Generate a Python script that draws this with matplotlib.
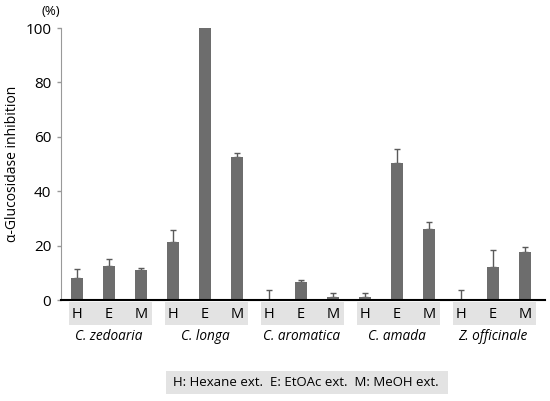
import numpy as np
import matplotlib
matplotlib.use("Agg")
import matplotlib.pyplot as plt
from matplotlib.patches import Rectangle
import matplotlib.transforms as mtransforms

plt.rcParams['font.family'] = ['Open Sans', 'DejaVu Sans']

# data
species = ['C. zedoaria', 'C. longa', 'C. aromatica', 'C. amada', 'Z. officinale']
extracts = ['H', 'E', 'M']
values = [8.0, 12.4, 10.9,
          21.4, 100.0, 52.6,
          0.0, 6.6, 1.2,
          1.2, 50.5, 26.0,
          0.0, 12.2, 17.6]
errors = [3.3, 2.5, 0.8,
          4.2, 0.0, 1.4,
          3.6, 0.6, 1.4,
          1.5, 5.0, 2.5,
          3.5, 6.1, 1.8]
legend_text = 'H: Hexane ext.  E: EtOAc ext.  M: MeOH ext.'

fig = plt.figure(figsize=(5.5, 4.01), dpi=100)
ax = fig.add_axes([61/550, 1 - 300/401, (545 - 61)/550, (300 - 28)/401])

x = np.arange(len(values))
ax.bar(x, values, width=0.38, color='#6d6d6d', zorder=2)
ax.errorbar(x, values, yerr=[np.zeros(len(errors)), errors], fmt='none',
            ecolor='#5a5a5a', elinewidth=1, capsize=2, capthick=1, zorder=1)

ax.set_xlim(-0.5, 14.62)
ax.set_ylim(0, 100)
ax.set_yticks([0, 20, 40, 60, 80, 100])
ax.set_xticks([])
ax.tick_params(axis='y', labelsize=11, color='#999999', length=3, width=1, pad=4)
for s in ['top', 'right']:
    ax.spines[s].set_visible(False)
ax.spines['left'].set_color('#999999')
ax.spines['bottom'].set_color('black')
ax.spines['bottom'].set_linewidth(1.5)
ax.spines['bottom'].set_zorder(3)

ax.set_ylabel('α-Glucosidase inhibition', fontsize=10)
ax.yaxis.set_label_coords(-0.085, 0.5)
ax.text(-0.022, 1.06, '(%)', transform=ax.transAxes, fontsize=9.5,
        ha='center', va='center')

# group boxes and labels under the axis
trans = mtransforms.blended_transform_factory(ax.transData, fig.transFigure)
for g, name in enumerate(species):
    left = 3 * g - 0.25
    ax.add_patch(Rectangle((left, 1 - 325/401), 2.58, 23/401, transform=trans,
                           facecolor='#e3e3e3', edgecolor='none', clip_on=False))
    for k, lab in enumerate(extracts):
        ax.text(3 * g + k, 1 - 314/401, lab, transform=trans, fontsize=10.5,
                ha='center', va='center')
    ax.text(3 * g + 1, 1 - 337/401, name, transform=trans, fontsize=9.8,
            style='italic', ha='center', va='center')

fig.patches.append(Rectangle((166/550, 1 - 394/401), 282/550, 23/401,
                             transform=fig.transFigure, facecolor='#e3e3e3',
                             edgecolor='none'))
fig.text(306/550, 1 - 382.5/401, legend_text, fontsize=9.5, ha='center', va='center')

fig.savefig('out.png', dpi=100)
